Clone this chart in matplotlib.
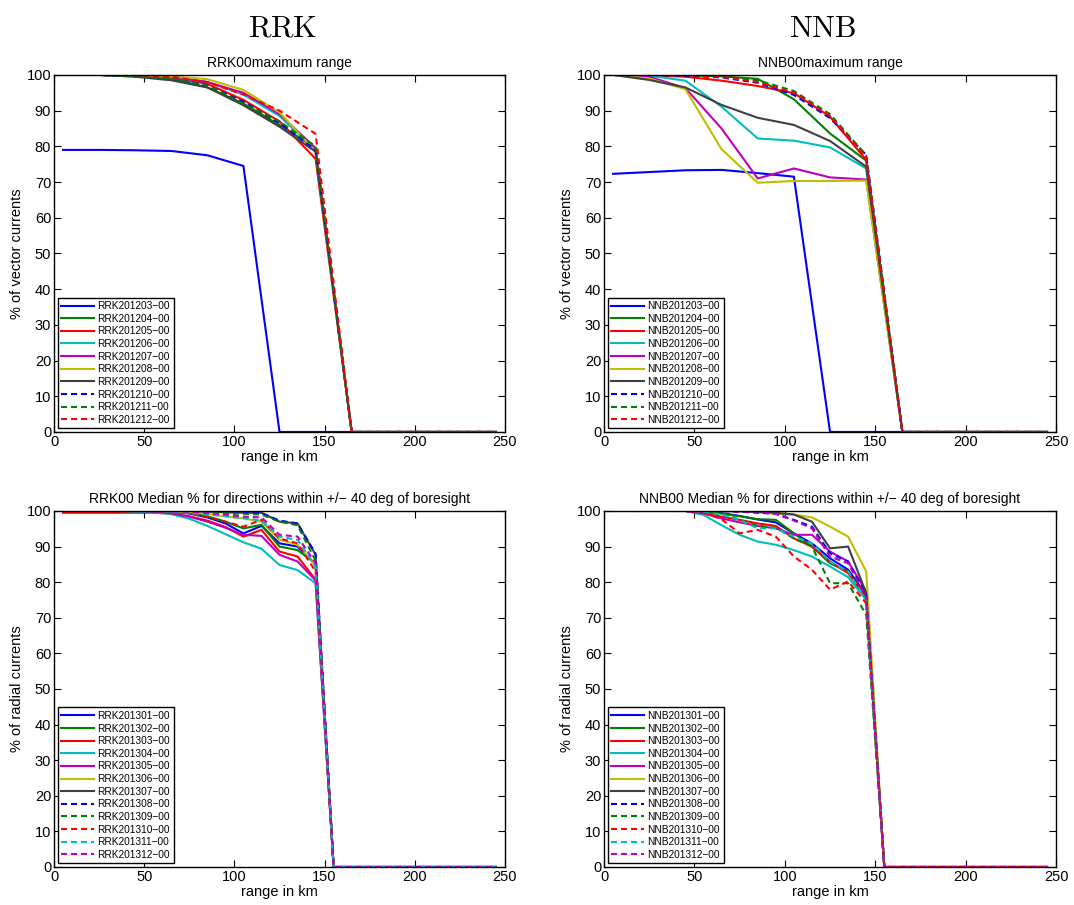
import matplotlib
matplotlib.use("Agg")
import matplotlib.pyplot as plt

plt.rcParams['font.family'] = ['Liberation Sans', 'DejaVu Sans']
plt.rcParams['mathtext.fontset'] = 'cm'

# ==============================================================================
# DATA
# ==============================================================================
RANGE_TOP = [5, 25, 45, 65, 85, 105, 125, 145, 165, 185, 205, 225, 245]
RANGE_BOT = [5, 15, 25, 35, 45, 55, 65, 75, 85, 95, 105, 115, 125,
             135, 145, 155, 165, 175, 185, 195, 205, 215, 225, 235, 245]

MONTHS_2012 = ['201203', '201204', '201205', '201206', '201207',
               '201208', '201209', '201210', '201211', '201212']
MONTHS_2013 = ['201301', '201302', '201303', '201304', '201305', '201306',
               '201307', '201308', '201309', '201310', '201311', '201312']

# % of vector currents, RRK
RRK_VEC = [
    [79, 79, 78.9, 78.7, 77.5, 74.5, 0, 0, 0, 0, 0, 0, 0],
    [100, 100, 99.7, 99, 96.5, 92, 86, 79.5, 0, 0, 0, 0, 0],
    [100, 100, 99.8, 99.3, 97.5, 93, 87, 76.5, 0, 0, 0, 0, 0],
    [100, 100, 99.8, 99.5, 98, 94.5, 88.5, 79, 0, 0, 0, 0, 0],
    [100, 100, 99.8, 99.5, 98, 95, 89, 79.5, 0, 0, 0, 0, 0],
    [100, 100, 99.9, 99.6, 98.8, 95.8, 89.5, 78.5, 0, 0, 0, 0, 0],
    [100, 100, 99.5, 98.5, 96.5, 91.5, 85.5, 78.5, 0, 0, 0, 0, 0],
    [100, 100, 99.6, 99, 97, 92.5, 86.5, 79, 0, 0, 0, 0, 0],
    [100, 100, 99.6, 99, 97, 92, 87, 80, 0, 0, 0, 0, 0],
    [100, 100, 100, 99.5, 98, 94.5, 90, 83.5, 0, 0, 0, 0, 0],
]

# % of vector currents, NNB
NNB_VEC = [
    [72.3, 72.8, 73.3, 73.4, 72.5, 71.5, 0, 0, 0, 0, 0, 0, 0],
    [100, 100, 99.9, 99.6, 98.9, 93.2, 83.6, 76, 0, 0, 0, 0, 0],
    [100, 99.9, 99.5, 98.4, 96.9, 94.9, 88.3, 76.2, 0, 0, 0, 0, 0],
    [100, 99.8, 98.4, 91.1, 82.2, 81.6, 79.7, 73.8, 0, 0, 0, 0, 0],
    [100, 99.5, 96.3, 85, 71, 73.8, 71.3, 70.7, 0, 0, 0, 0, 0],
    [100, 99, 96, 79.2, 69.8, 70.3, 70.3, 70.4, 0, 0, 0, 0, 0],
    [100, 98.6, 96.5, 91.6, 88, 86, 81.5, 74.3, 0, 0, 0, 0, 0],
    [100, 100, 99.8, 99.3, 97.8, 94.4, 87.9, 77.6, 0, 0, 0, 0, 0],
    [100, 100, 100, 99.6, 98.5, 95.5, 89, 77.5, 0, 0, 0, 0, 0],
    [100, 100, 100, 99.5, 98, 95, 88.5, 77, 0, 0, 0, 0, 0],
]

# % of radial currents, RRK
RRK_RAD = [
    [100, 100, 100, 100, 100, 100, 99.8, 99.3, 98.2, 96.5, 93.7, 95.8, 90.9, 90, 84.9, 0, 0, 0, 0, 0, 0, 0, 0, 0, 0],
    [100, 100, 100, 100, 100, 100, 99.8, 99.5, 98.5, 97, 95.1, 96.1, 90, 89, 85.3, 0, 0, 0, 0, 0, 0, 0, 0, 0, 0],
    [99.5, 99.5, 99.5, 99.5, 99.5, 99.5, 99.3, 98.5, 97.3, 95.5, 92.8, 94.7, 88.6, 87.2, 80.7, 0, 0, 0, 0, 0, 0, 0, 0, 0, 0],
    [100, 100, 100, 100, 99.8, 99.6, 99.1, 97.8, 95.8, 93.5, 91.2, 89.4, 84.8, 83.4, 79.7, 0, 0, 0, 0, 0, 0, 0, 0, 0, 0],
    [100, 100, 100, 100, 100, 99.8, 99.3, 98.4, 97, 95.3, 93.3, 93, 87.7, 85.8, 80.5, 0, 0, 0, 0, 0, 0, 0, 0, 0, 0],
    [100, 100, 100, 100, 100, 100, 99.9, 99.7, 99.2, 98.5, 97.9, 97, 91.9, 90.5, 84.9, 0, 0, 0, 0, 0, 0, 0, 0, 0, 0],
    [100, 100, 100, 100, 100, 100, 100, 100, 99.8, 99.6, 99.5, 99.5, 97, 96.5, 87.7, 0, 0, 0, 0, 0, 0, 0, 0, 0, 0],
    [100, 100, 100, 100, 100, 100, 100, 100, 99.8, 99.6, 99.5, 99.4, 97.3, 96.5, 88, 0, 0, 0, 0, 0, 0, 0, 0, 0, 0],
    [100, 100, 100, 100, 100, 100, 100, 99.9, 99.7, 99.4, 99.2, 99, 97, 96, 86, 0, 0, 0, 0, 0, 0, 0, 0, 0, 0],
    [100, 100, 100, 100, 100, 100, 99.8, 99.3, 98.3, 97, 95.6, 97.5, 92.3, 90.9, 83, 0, 0, 0, 0, 0, 0, 0, 0, 0, 0],
    [100, 100, 100, 100, 100, 100, 99.8, 99.5, 99, 98.5, 98, 97.3, 92.8, 91.9, 84.4, 0, 0, 0, 0, 0, 0, 0, 0, 0, 0],
    [100, 100, 100, 100, 100, 100, 100, 99.8, 99.4, 99, 98.4, 98.2, 93.3, 92.8, 85.3, 0, 0, 0, 0, 0, 0, 0, 0, 0, 0],
]

# % of radial currents, NNB
NNB_RAD = [
    [100, 100, 100, 100, 100, 99.8, 99.4, 98.6, 97.6, 96.8, 93.7, 90.9, 86.7, 83.5, 76.4, 0, 0, 0, 0, 0, 0, 0, 0, 0, 0],
    [100, 100, 100, 100, 100, 99.8, 99.3, 98.5, 97.7, 97.5, 93.7, 90, 85.3, 83, 75, 0, 0, 0, 0, 0, 0, 0, 0, 0, 0],
    [100, 100, 100, 100, 100, 99.5, 98.4, 97.5, 96.5, 95.8, 92.3, 90, 85.8, 82.5, 76, 0, 0, 0, 0, 0, 0, 0, 0, 0, 0],
    [100, 100, 100, 100, 100, 98.9, 96, 93.3, 91.4, 90.5, 89, 87.2, 84.4, 81.4, 75, 0, 0, 0, 0, 0, 0, 0, 0, 0, 0],
    [100, 100, 100, 100, 100, 99.3, 97.9, 96.8, 95.8, 95.1, 93.3, 93.3, 88.6, 85.8, 77.4, 0, 0, 0, 0, 0, 0, 0, 0, 0, 0],
    [100, 100, 100, 100, 100, 100, 100, 99.9, 99.6, 99.2, 99, 98.2, 95.6, 92.8, 83, 0, 0, 0, 0, 0, 0, 0, 0, 0, 0],
    [100, 100, 100, 100, 100, 100, 100, 99.9, 99.7, 99.5, 99, 97, 89.5, 90, 76.9, 0, 0, 0, 0, 0, 0, 0, 0, 0, 0],
    [100, 100, 100, 100, 100, 100, 100, 99.8, 99.5, 99.2, 97.5, 95.6, 88.1, 85.8, 76.4, 0, 0, 0, 0, 0, 0, 0, 0, 0, 0],
    [100, 100, 100, 100, 100, 99.8, 99.4, 97.5, 95.8, 95.3, 92.3, 90, 79.7, 79.7, 70.8, 0, 0, 0, 0, 0, 0, 0, 0, 0, 0],
    [100, 100, 100, 100, 100, 99.5, 97.7, 93.7, 94.7, 92.8, 87.2, 83.5, 77.9, 80.2, 74.1, 0, 0, 0, 0, 0, 0, 0, 0, 0, 0],
    [100, 100, 100, 100, 100, 99.8, 99, 97.5, 95.1, 95.1, 92.8, 90.9, 85.8, 83, 75, 0, 0, 0, 0, 0, 0, 0, 0, 0, 0],
    [100, 100, 100, 100, 100, 100, 100, 99.8, 99.8, 99.2, 97.3, 95.1, 87.2, 85.3, 75.8, 0, 0, 0, 0, 0, 0, 0, 0, 0, 0],
]

# MATLAB default line colours, solid first then dashed
COLORS = ['#0000ff', '#008000', '#ff0000', '#00bfbf', '#bf00bf', '#bfbf00', '#404040']


def style_for(i):
    color = COLORS[i % 7]
    ls = '-' if i < 7 else (0, (2.9, 1.9))
    return color, ls


def draw_panel(ax, x, series, labels, title, ylabel):
    for i, (vals, lab) in enumerate(zip(series, labels)):
        color, ls = style_for(i)
        ax.plot(x, vals, color=color, linestyle=ls, linewidth=1.5, label=lab)
    ax.set_xlim(0, 250)
    ax.set_ylim(0, 100)
    ax.set_xticks([0, 50, 100, 150, 200, 250])
    ax.set_yticks(range(0, 101, 10))
    ax.tick_params(direction='in', top=True, right=True, length=5,
                   labelsize=10.5, width=0.8, pad=2)
    for sp in ax.spines.values():
        sp.set_linewidth(1.0)
    ax.set_title(title, fontsize=10, pad=6)
    ax.set_xlabel('range in km', fontsize=10.5, labelpad=1)
    ax.set_ylabel(ylabel, fontsize=10.5, labelpad=2)
    leg = ax.legend(loc='lower left', fontsize=7.3, handlelength=3.2,
                    labelspacing=0.26, borderaxespad=0.35, borderpad=0.35,
                    handletextpad=0.4, fancybox=False, framealpha=1)
    leg.get_frame().set_edgecolor('black')
    leg.get_frame().set_linewidth(1.0)


# ==============================================================================
# FIGURE
# ==============================================================================
fig = plt.figure(figsize=(10.74, 9.05), dpi=100)

ax_tl = fig.add_axes([0.0503, 0.5227, 0.4199, 0.3945])
ax_tr = fig.add_axes([0.5624, 0.5227, 0.4209, 0.3945])
ax_bl = fig.add_axes([0.0503, 0.0420, 0.4199, 0.3934])
ax_br = fig.add_axes([0.5624, 0.0420, 0.4209, 0.3934])

draw_panel(ax_tl, RANGE_TOP, RRK_VEC, ['RRK%s\u221200' % m for m in MONTHS_2012],
           'RRK00maximum range', '% of vector currents')
draw_panel(ax_tr, RANGE_TOP, NNB_VEC, ['NNB%s\u221200' % m for m in MONTHS_2012],
           'NNB00maximum range', '% of vector currents')
draw_panel(ax_bl, RANGE_BOT, RRK_RAD, ['RRK%s\u221200' % m for m in MONTHS_2013],
           'RRK00 Median % for directions within +/\u2212 40 deg of boresight',
           '% of radial currents')
draw_panel(ax_br, RANGE_BOT, NNB_RAD, ['NNB%s\u221200' % m for m in MONTHS_2013],
           'NNB00 Median % for directions within +/\u2212 40 deg of boresight',
           '% of radial currents')

# station headers
fig.text(0.2635, 0.968, r'$\mathrm{RRK}$', fontsize=22, ha='center', va='center')
fig.text(0.7665, 0.968, r'$\mathrm{NNB}$', fontsize=22, ha='center', va='center')

plt.savefig('out.png', dpi=100)
plt.close()
